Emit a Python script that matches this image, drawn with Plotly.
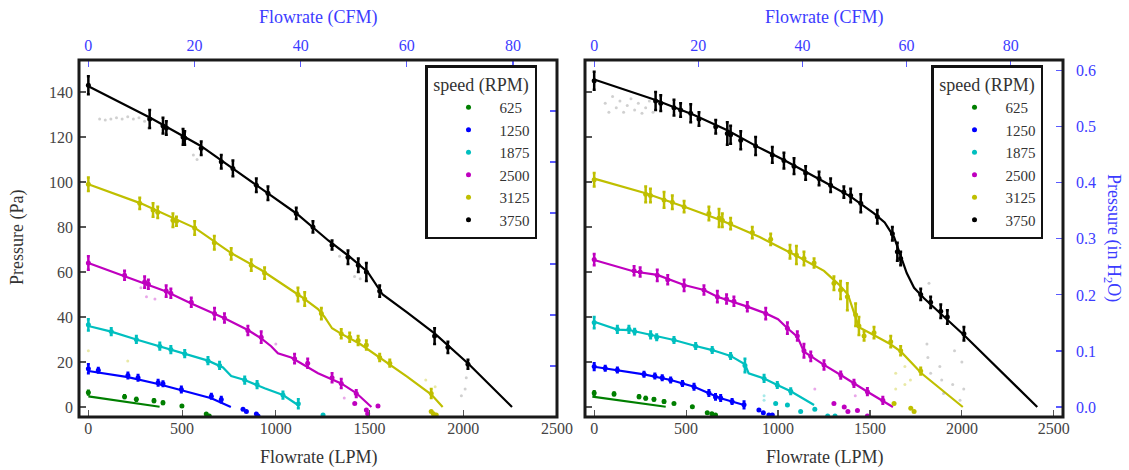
import plotly.graph_objects as go

W, H = 1129, 470
LPM_PER_CFM = 28.3168
PA_PER_INH2O = 249.089

SPEEDS = ["625", "1250", "1875", "2500", "3125", "3750"]
COLORS = ["#007f00", "#0000ff", "#00bfbf", "#bf00bf", "#bfbf00", "#000000"]

X_TICKS_LPM = [0, 500, 1000, 1500, 2000, 2500]
X_TICKS_CFM = [0, 20, 40, 60, 80]
Y_TICKS_PA = [0, 20, 40, 60, 80, 100, 120, 140]
Y_TICKS_INH2O = [0.0, 0.1, 0.2, 0.3, 0.4, 0.5, 0.6]
Y_TICKS_INH2O_LEFT = [0.1, 0.2, 0.3, 0.4, 0.5, 0.6]

# ---------------- LEFT PANEL ----------------
# fitted curves
L_FIT_X_625 = [0, 380]
L_FIT_Y_625 = [4.7, 0.1]
L_FIT_X_1250 = [0, 211, 372, 496, 656, 760]
L_FIT_Y_1250 = [16, 13.3, 10.2, 7.3, 3.9, 0]
L_FIT_X_1875 = [0, 122, 256, 381, 514, 638, 718, 762, 834, 940, 1038, 1120]
L_FIT_Y_1875 = [36, 33.5, 30, 27, 23.7, 20.6, 17.6, 13.8, 12, 8.3, 5.3, 0.8]
L_FIT_X_2500 = [0, 193, 300, 415, 549, 673, 726, 851, 922, 975, 1011, 1082, 1225, 1349, 1429, 1510]
L_FIT_Y_2500 = [64, 58.2, 55, 51.3, 46, 41.6, 39.4, 34.2, 30.5, 27, 23.9, 22, 15, 10.5, 6.2, 0]
L_FIT_X_3125 = [0, 280, 570, 760, 920, 1136, 1225, 1260, 1300, 1350, 1450, 1560, 1700, 1830, 1890]
L_FIT_Y_3125 = [99, 90.5, 79.5, 68.5, 61, 49, 43.5, 40, 35, 32.5, 28, 21.7, 13.5, 5.5, 0]
L_FIT_X_3750 = [0, 330, 600, 900, 1110, 1280, 1390, 1490, 1530, 1570, 1700, 1850, 2030, 2260]
L_FIT_Y_3750 = [142.5, 128.5, 116, 98.5, 86, 74, 67, 60, 55, 50, 42, 32.5, 19, 0]

# measured points (x, y, vertical spread of each cluster)
L_PTS_X_625 = [0, 193, 256, 350, 398, 499, 629, 645]
L_PTS_Y_625 = [6.4, 4.6, 3.4, 2.8, 1.9, 0.4, -3.1, -4]
L_PTS_S_625 = [0.8, 0.6, 0.6, 0.6, 0.6, 0, 0, 0]
L_PTS_X_1250 = [0, 53, 211, 265, 372, 398, 496, 656, 709, 825, 843, 896, 905]
L_PTS_Y_1250 = [17, 16.3, 14, 13, 10.8, 10.3, 7.8, 4.8, 3.3, -1, -2, -3.1, -4]
L_PTS_S_1250 = [2, 1, 1.2, 1.2, 1.2, 1, 1.2, 1, 1.2, 0, 0, 0, 0]
L_PTS_X_1875 = [0, 122, 256, 381, 440, 514, 638, 700, 834, 900, 1038, 1120, 1252]
L_PTS_Y_1875 = [36.5, 33.5, 30, 27, 25.5, 23.7, 20.6, 18.5, 12, 10, 5.3, 1.5, -3.6]
L_PTS_S_1875 = [2.5, 1.5, 1.5, 1.5, 1.5, 1.5, 1.5, 1.5, 1.5, 1.5, 1.5, 2, 0]
L_PTS_X_2500 = [0, 193, 300, 320, 415, 440, 549, 673, 726, 851, 922, 1100, 1170, 1300, 1349, 1429, 1421, 1483, 1545, 1490]
L_PTS_Y_2500 = [64, 58.5, 55.5, 54.5, 51.5, 50.5, 46.5, 41.5, 39.5, 34, 31, 21.5, 19.5, 13, 10.5, 6, 1.6, -1.3, 0.4, -3]
L_PTS_S_2500 = [3, 2, 2.5, 2, 2.5, 2, 2, 2.5, 2, 2, 2.5, 2, 2, 2, 2, 1.5, 0, 0, 0, 0]
L_PTS_X_3125 = [0, 274, 345, 370, 451, 470, 567, 672, 762, 869, 940, 1118, 1154, 1243, 1349, 1394, 1439, 1483, 1554, 1608, 1829, 1829, 1856, 1840]
L_PTS_Y_3125 = [99, 90.5, 87.5, 86.5, 83, 82.5, 79.5, 73, 68, 63, 59.5, 50, 48, 41.5, 32.5, 31, 29.5, 27.5, 22, 19.5, 6, -2, -3.5, -3]
L_PTS_S_3125 = [3, 2.5, 3, 2.5, 3, 2, 3, 3, 2.5, 2.5, 2.5, 3, 3, 2.5, 2, 2, 2, 2, 1.5, 1.5, 2, 0, 0, 0]
L_PTS_X_3750 = [0, 327, 398, 416, 505, 514, 602, 709, 771, 896, 958, 1109, 1198, 1300, 1385, 1440, 1483, 1554, 1847, 1918, 2025]
L_PTS_Y_3750 = [143, 128, 125, 124, 120, 119.5, 115, 109, 106, 98.5, 95, 86, 80, 72, 66.5, 63, 60, 51.5, 31.5, 26.5, 19]
L_PTS_S_3750 = [4, 4, 3.5, 3, 3.5, 3, 3, 3, 3.5, 3, 3, 2.5, 2.5, 2, 3, 3, 4, 2.5, 3.5, 2.5, 2]

# faint (rejected) samples
L_FAINT_X_3750 = [60, 90, 120, 150, 180, 210, 240, 270, 300, 320, 560, 580, 1300, 1340, 1420, 1450, 2016, 2010, 1990]
L_FAINT_Y_3750 = [128, 127.5, 128, 128.5, 128, 129, 128, 128.5, 127, 124, 112, 110, 70, 67, 58, 57, 13, 8, 5]
L_FAINT_X_2500 = [280, 310, 355, 1365, 1000]
L_FAINT_Y_2500 = [53, 49, 48, 4, 28]
L_FAINT_X_3125 = [0, 210, 1800, 1850]
L_FAINT_Y_3125 = [25, 20.5, 12, 9]

# ---------------- RIGHT PANEL ----------------
R_FIT_X_625 = [-10, 389]
R_FIT_Y_625 = [4.6, 0.1]
R_FIT_X_1250 = [0, 126, 271, 416, 543, 624, 688, 815]
R_FIT_Y_1250 = [17.9, 16.4, 14.5, 12, 9, 6.1, 3.9, 0.9]
R_FIT_X_1875 = [0, 126, 189, 307, 434, 552, 642, 742, 797, 820, 840, 924, 996, 1069, 1196]
R_FIT_Y_1875 = [37.9, 34.4, 34.2, 32, 29.8, 27.1, 25.3, 22.7, 20, 19, 15, 12.7, 9.8, 7, 0.9]
R_FIT_X_2500 = [0, 217, 343, 489, 597, 670, 833, 933, 1000, 1051, 1105, 1141, 1178, 1250, 1341, 1413, 1486, 1625]
R_FIT_Y_2500 = [65.3, 60.2, 58.7, 54.2, 52, 49, 44.6, 41.6, 39, 35, 31.3, 24.6, 22.6, 18.7, 14.2, 10.5, 6.8, 0]
R_FIT_X_3125 = [0, 280, 490, 690, 900, 1105, 1250, 1330, 1380, 1405, 1440, 1520, 1610, 1670, 1780, 2005]
R_FIT_Y_3125 = [101.5, 95, 89, 83, 75.5, 67, 60.5, 54.5, 50, 44, 35.5, 32, 28, 24.5, 15, 0]
R_FIT_X_3750 = [0, 334, 543, 724, 887, 1032, 1250, 1395, 1522, 1580, 1631, 1667, 1700, 1740, 1794, 1903, 2011, 2410]
R_FIT_Y_3750 = [145.5, 136.4, 129.8, 123, 115.7, 109.8, 100.1, 93.5, 86, 82, 75.5, 67, 59.5, 53, 48.3, 40.1, 32, 0]

R_PTS_X_625 = [0, 108, 244, 280, 325, 380, 434, 534, 615, 660, 640]
R_PTS_Y_625 = [6.2, 5.8, 4.6, 3.9, 3.4, 2.4, 1.6, 0.1, -2.5, -3.6, -3]
R_PTS_S_625 = [0.8, 0.6, 0.6, 0.5, 0.5, 0.5, 0, 0, 0, 0, 0]
R_PTS_X_1250 = [0, 60, 126, 271, 330, 370, 416, 480, 543, 624, 660, 688, 750, 815, 896, 950, 969, 920]
R_PTS_Y_1250 = [18, 17.2, 16.5, 14.6, 13.8, 13, 12, 10.5, 9, 6.2, 4.5, 4, 2.5, 1, -1.3, -3.6, -3.6, -2.5]
R_PTS_S_1250 = [1.5, 1, 1, 1, 1, 1, 1, 1, 1.2, 1.2, 1.2, 1.2, 1, 1.5, 0, 0, 0, 0]
R_PTS_X_1875 = [0, 126, 189, 220, 307, 340, 434, 552, 642, 742, 820, 924, 996, 1069, 987, 1051, 1123, 1200, 1270, 1310]
R_PTS_Y_1875 = [37.5, 34.5, 34.5, 33.5, 32, 31, 29.8, 27.1, 25.3, 22.7, 18.5, 12.7, 9.8, 7, 1.6, 0.9, -2, -1, -4, -4]
R_PTS_S_1875 = [2.5, 1.5, 1.5, 1.2, 1.5, 1.2, 1.2, 1.2, 1.2, 1.2, 3, 1.5, 1.2, 1.2, 0, 0, 0, 0, 0, 0]
R_PTS_X_2500 = [0, 217, 250, 343, 400, 489, 597, 670, 720, 760, 833, 933, 1051, 1105, 1141, 1178, 1250, 1341, 1413, 1486, 1570, 1304, 1360, 1380, 1432, 1486]
R_PTS_Y_2500 = [65.5, 60.5, 60, 58.5, 56.5, 54, 52, 49, 48, 47, 44.5, 41.5, 35, 31.5, 25, 22.5, 18.7, 14.2, 10.5, 6.8, 3, 1.6, 0, -2, -1.5, -4]
R_PTS_S_2500 = [2.5, 2, 2, 2.5, 2, 2.5, 2, 2.5, 2, 2, 2, 2.5, 2.5, 2, 3, 2, 2, 1.5, 1.5, 1.5, 1.5, 0, 0, 0, 0, 0]
R_PTS_X_3125 = [0, 280, 306, 380, 425, 489, 624, 679, 697, 742, 860, 960, 1065, 1100, 1141, 1196, 1304, 1340, 1377, 1422, 1440, 1468, 1522, 1613, 1667, 1776, 1631, 1722, 1740]
R_PTS_Y_3125 = [101, 94.5, 94, 92, 91, 89, 86, 84, 83, 81.5, 77.5, 74.5, 69, 67.5, 66, 64, 55, 52, 49, 41, 36, 31.5, 33, 29, 25, 16, 1.6, -0.6, -2]
R_PTS_S_3125 = [3, 3.5, 3, 3.5, 3, 2.5, 3, 4, 3, 2.5, 2.5, 2.5, 3, 4, 3, 2, 3, 4, 6, 5, 4, 2, 2.5, 2.5, 2, 1.5, 0, 0, 0]
R_PTS_X_3750 = [0, 334, 362, 434, 470, 525, 570, 661, 724, 742, 797, 878, 969, 1032, 1087, 1150, 1223, 1286, 1358, 1395, 1450, 1540, 1622, 1649, 1667, 1776, 1830, 1885, 1921, 2011]
R_PTS_Y_3750 = [145, 136, 135, 133, 132, 130.5, 128, 124.5, 121.5, 121, 118.5, 116, 112, 109.5, 107, 104, 101.5, 98.5, 95.5, 94, 90.5, 84.5, 77, 69, 66, 50, 46.5, 42.5, 40, 32.5]
R_PTS_S_3750 = [4, 4, 3.5, 3.5, 3, 4, 3, 3, 5, 4, 4, 4, 3.5, 3.5, 3.5, 3, 3, 3, 2.5, 3, 4, 3, 3, 4, 3, 2.5, 2.5, 3, 3, 3]

R_FAINT_X_3750 = [60, 80, 100, 120, 140, 160, 180, 200, 220, 240, 260, 280, 300, 320, 1821, 1810, 1815, 1830, 1880, 1890, 1900, 1950, 1960, 1990, 2000, 2010]
R_FAINT_Y_3750 = [135, 131, 138, 133, 136, 131, 134, 137, 132, 135, 130.5, 133, 136, 131, 55, 28, 22, 15, 18, 12, 6, 10, 25, 3, 20, 8]
R_FAINT_X_3125 = [1640, 1640, 1690, 1690, 1720]
R_FAINT_Y_3125 = [15, 8, 18, 10, 12]
R_FAINT_X_2500 = [1200, 1420]
R_FAINT_Y_2500 = [8, 5]
R_FAINT_X_1875 = [924, 924]
R_FAINT_Y_1875 = [5, 3]

LEFT_FIT = [(L_FIT_X_625, L_FIT_Y_625), (L_FIT_X_1250, L_FIT_Y_1250), (L_FIT_X_1875, L_FIT_Y_1875),
            (L_FIT_X_2500, L_FIT_Y_2500), (L_FIT_X_3125, L_FIT_Y_3125), (L_FIT_X_3750, L_FIT_Y_3750)]
LEFT_PTS = [(L_PTS_X_625, L_PTS_Y_625, L_PTS_S_625), (L_PTS_X_1250, L_PTS_Y_1250, L_PTS_S_1250),
            (L_PTS_X_1875, L_PTS_Y_1875, L_PTS_S_1875), (L_PTS_X_2500, L_PTS_Y_2500, L_PTS_S_2500),
            (L_PTS_X_3125, L_PTS_Y_3125, L_PTS_S_3125), (L_PTS_X_3750, L_PTS_Y_3750, L_PTS_S_3750)]
LEFT_FAINT = [None, None, None, (L_FAINT_X_2500, L_FAINT_Y_2500), (L_FAINT_X_3125, L_FAINT_Y_3125),
              (L_FAINT_X_3750, L_FAINT_Y_3750)]
RIGHT_FIT = [(R_FIT_X_625, R_FIT_Y_625), (R_FIT_X_1250, R_FIT_Y_1250), (R_FIT_X_1875, R_FIT_Y_1875),
             (R_FIT_X_2500, R_FIT_Y_2500), (R_FIT_X_3125, R_FIT_Y_3125), (R_FIT_X_3750, R_FIT_Y_3750)]
RIGHT_PTS = [(R_PTS_X_625, R_PTS_Y_625, R_PTS_S_625), (R_PTS_X_1250, R_PTS_Y_1250, R_PTS_S_1250),
             (R_PTS_X_1875, R_PTS_Y_1875, R_PTS_S_1875), (R_PTS_X_2500, R_PTS_Y_2500, R_PTS_S_2500),
             (R_PTS_X_3125, R_PTS_Y_3125, R_PTS_S_3125), (R_PTS_X_3750, R_PTS_Y_3750, R_PTS_S_3750)]
RIGHT_FAINT = [None, None, (R_FAINT_X_1875, R_FAINT_Y_1875), (R_FAINT_X_2500, R_FAINT_Y_2500),
               (R_FAINT_X_3125, R_FAINT_Y_3125), (R_FAINT_X_3750, R_FAINT_Y_3750)]

FONT = "Liberation Serif"
BLUE_TXT = "#3c3cff"
BLUE_TICK = "#5a5aff"
GRAY_TXT = "#444444"

# pixel geometry
L_X0, L_X1 = 79, 557
R_X0, R_X1 = 585, 1063
Y_TOP, Y_BOT = 60, 417
X_RANGE_L = [-50, 2500]
X_RANGE_R = [-50, 2550]
Y_RANGE = [-4.44, 154.2]


def px(x):
    return x / W


def py(y):
    return 1 - y / H


fig = go.Figure()


def add_panel(fits, pts, faints, xa, ya, legend_name):
    for i, sp in enumerate(SPEEDS):
        col = COLORS[i]
        if faints[i] is not None:
            fx, fy = faints[i]
            fig.add_trace(go.Scatter(x=fx, y=fy, mode="markers", xaxis=xa, yaxis=ya,
                                     marker=dict(color=col if col != "#000000" else "#777777", size=3, opacity=0.35),
                                     showlegend=False, hoverinfo="skip"))
        x, y, s = pts[i]
        fig.add_trace(go.Scatter(x=x, y=y, mode="markers", xaxis=xa, yaxis=ya, name=sp,
                                 legend=legend_name, legendgroup=legend_name + sp,
                                 marker=dict(color=col, size=5),
                                 error_y=dict(type="data", array=s, visible=True, color=col,
                                              thickness=2.5, width=1.5),
                                 hoverinfo="skip"))
        fxl, fyl = fits[i]
        fig.add_trace(go.Scatter(x=fxl, y=fyl, mode="lines", xaxis=xa, yaxis=ya,
                                 line=dict(color=col, width=2.2), showlegend=False,
                                 legendgroup=legend_name + sp, hoverinfo="skip"))


add_panel(LEFT_FIT, LEFT_PTS, LEFT_FAINT, "x", "y", "legend")
add_panel(RIGHT_FIT, RIGHT_PTS, RIGHT_FAINT, "x3", "y3", "legend2")

# the same 3750 RPM curves expressed in CFM / inches of water, drawn invisibly so the
# secondary (unit-converted) axes are instantiated
fig.add_trace(go.Scatter(x=[v / LPM_PER_CFM for v in L_FIT_X_3750], y=L_FIT_Y_3750, xaxis="x2", yaxis="y",
                         mode="lines", opacity=0, showlegend=False, hoverinfo="skip"))
fig.add_trace(go.Scatter(x=L_FIT_X_3750, y=[v / PA_PER_INH2O for v in L_FIT_Y_3750], xaxis="x", yaxis="y2",
                         mode="lines", opacity=0, showlegend=False, hoverinfo="skip"))
fig.add_trace(go.Scatter(x=[v / LPM_PER_CFM for v in R_FIT_X_3750], y=R_FIT_Y_3750, xaxis="x4", yaxis="y3",
                         mode="lines", opacity=0, showlegend=False, hoverinfo="skip"))
fig.add_trace(go.Scatter(x=R_FIT_X_3750, y=[v / PA_PER_INH2O for v in R_FIT_Y_3750], xaxis="x3", yaxis="y4",
                         mode="lines", opacity=0, showlegend=False, hoverinfo="skip"))

tickfont = dict(family=FONT, size=16, color=GRAY_TXT)
bluefont = dict(family=FONT, size=16, color=BLUE_TXT)
common = dict(showgrid=False, zeroline=False, showline=False, ticks="inside", ticklen=7, tickwidth=1.2,
              automargin=False, fixedrange=True)

ydom = [py(Y_BOT), py(Y_TOP)]

legend_common = dict(y=py(65), xanchor="left", yanchor="top", bgcolor="white",
                     bordercolor="#111111", borderwidth=2.5,
                     font=dict(family=FONT, size=15, color="#333333"),
                     title=dict(text="speed (RPM)", side="top center",
                                font=dict(family=FONT, size=18, color="#333333")),
                     indentation=10, itemwidth=52, itemsizing="trace", traceorder="normal")

fig.update_layout(
    width=W, height=H, autosize=False,
    margin=dict(l=0, r=0, t=0, b=0),
    paper_bgcolor="white", plot_bgcolor="white",
    font=dict(family=FONT, color="#333333"),
    xaxis=dict(domain=[px(L_X0), px(L_X1)], anchor="y", range=X_RANGE_L, tickvals=X_TICKS_LPM,
               tickcolor="#555555", tickfont=tickfont, **common),
    xaxis2=dict(overlaying="x", side="top", anchor="y",
                range=[X_RANGE_L[0] / LPM_PER_CFM, X_RANGE_L[1] / LPM_PER_CFM], tickvals=X_TICKS_CFM,
                tickcolor=BLUE_TICK, tickfont=bluefont, ticklabelstandoff=5, **common),
    yaxis=dict(domain=ydom, anchor="x", range=Y_RANGE, tickvals=Y_TICKS_PA,
               tickcolor="#555555", tickfont=tickfont, ticklabelstandoff=5, **common),
    yaxis2=dict(overlaying="y", side="right", anchor="x", range=[0, 0.7],
                tickvals=Y_TICKS_INH2O_LEFT, showticklabels=False,
                tickcolor=BLUE_TICK, **common),
    xaxis3=dict(domain=[px(R_X0), px(R_X1)], anchor="y3", range=X_RANGE_R, tickvals=X_TICKS_LPM,
                tickcolor="#555555", tickfont=tickfont, **common),
    xaxis4=dict(overlaying="x3", side="top", anchor="y3",
                range=[X_RANGE_R[0] / LPM_PER_CFM, X_RANGE_R[1] / LPM_PER_CFM], tickvals=X_TICKS_CFM,
                tickcolor=BLUE_TICK, tickfont=bluefont, ticklabelstandoff=5, **common),
    yaxis3=dict(domain=ydom, anchor="x3", range=Y_RANGE, tickvals=Y_TICKS_PA, showticklabels=False,
                tickcolor="#555555", **common),
    yaxis4=dict(overlaying="y3", side="right", anchor="x3",
                range=[Y_RANGE[0] / PA_PER_INH2O, Y_RANGE[1] / PA_PER_INH2O], tickvals=Y_TICKS_INH2O,
                tickformat=".1f", tickcolor=BLUE_TICK, tickfont=bluefont, ticklabelstandoff=12, **common),
    showlegend=True,
    legend=dict(x=px(425), **legend_common),
    legend2=dict(x=px(931), **legend_common),
)

# frames
for x0, x1 in [(L_X0, L_X1), (R_X0, R_X1)]:
    fig.add_shape(type="rect", xref="paper", yref="paper", x0=px(x0), x1=px(x1), y0=py(Y_BOT), y1=py(Y_TOP),
                  line=dict(color="#1a1a1a", width=3), layer="above")

title_font = dict(family=FONT, size=18, color="#333333")
blue_title = dict(family=FONT, size=18, color=BLUE_TXT)
ann = [
    dict(text="Flowrate (LPM)", x=px((L_X0 + L_X1) / 2), y=py(457), font=title_font),
    dict(text="Flowrate (LPM)", x=px((R_X0 + R_X1) / 2), y=py(457), font=title_font),
    dict(text="Flowrate (CFM)", x=px((L_X0 + L_X1) / 2), y=py(18), font=blue_title),
    dict(text="Flowrate (CFM)", x=px((R_X0 + R_X1) / 2), y=py(18), font=blue_title),
    dict(text="Pressure (Pa)", x=px(18), y=py(238), font=title_font, textangle=-90),
    dict(text="Pressure (in H<sub>2</sub>O)", x=px(1112), y=py(238), font=blue_title, textangle=90),
]
for a in ann:
    fig.add_annotation(xref="paper", yref="paper", showarrow=False, xanchor="center", yanchor="middle", **a)

# remove the browser's default 8px page margin so the figure sits at the window origin
fig.write_html("out.html", config={"displayModeBar": False, "staticPlot": True},
               post_script="document.body.style.margin='0px';")
